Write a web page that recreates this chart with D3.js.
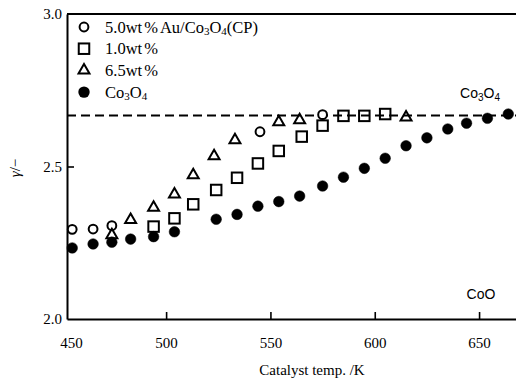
<!DOCTYPE html>
<html>
<head>
<meta charset="utf-8">
<script src="https://cdn.jsdelivr.net/npm/d3@7/dist/d3.min.js"></script>
<style>
  html, body { margin: 0; padding: 0; background: #fff; }
  svg { display: block; }
</style>
</head>
<body>
<svg id="chart" width="516" height="385"></svg>
<script>
// ---- data ----
const xTicks = [450, 500, 550, 600, 650];
const yTicks = [2.0, 2.5, 3.0];
const co3o4Line = 2.667;   // dashed reference level (Co3O4)

// 5.0wt% Au/Co3O4(CP)  (open circles)
const auTemp  = [455, 465, 474, 545, 575];
const auGamma = [2.294, 2.295, 2.306, 2.614, 2.670];

// 1.0wt% (open squares)
const sqTemp  = [494, 504, 513, 524, 534, 544, 554, 565, 575, 585, 595, 605];
const sqGamma = [2.303, 2.330, 2.376, 2.423, 2.463, 2.510, 2.551, 2.598, 2.634, 2.666, 2.666, 2.672];

// 6.5wt% (open triangles)
const trTemp  = [474, 483, 494, 504, 513, 523, 533, 554, 564, 615];
const trGamma = [2.275, 2.325, 2.365, 2.409, 2.472, 2.534, 2.587, 2.646, 2.652, 2.661];

// Co3O4 (filled circles)
const coTemp  = [455, 465, 474, 483, 494, 504, 524, 534, 544, 554, 564, 575, 585, 595, 605, 615, 625, 635, 644, 654, 664];
const coGamma = [2.233, 2.246, 2.252, 2.262, 2.270, 2.286, 2.327, 2.343, 2.370, 2.385, 2.403, 2.436, 2.465, 2.494, 2.527, 2.568, 2.594, 2.623, 2.642, 2.658, 2.672];

// ---- layout ----
const L = 67, R = 516, T = 14, B = 319;
const svg = d3.select('#chart');
const serif = "'Liberation Serif', 'DejaVu Serif', serif";
const sans = "'Liberation Sans', Arial, sans-serif";

const x = d3.scaleLinear().domain([452.5, 667.7]).range([L, R]).clamp(true);
const y = d3.scaleLinear().domain([2, 3]).range([B, T]);

// axes
const xAxis = d3.axisBottom(x).tickValues(xTicks).tickSizeInner(-7).tickSizeOuter(0).tickPadding(18).tickFormat(d3.format('d'));
const gx = svg.append('g').attr('transform', `translate(0,${B})`).call(xAxis);
const yAxis = d3.axisLeft(y).tickValues(yTicks).tickSizeInner(-7).tickSizeOuter(0).tickPadding(5).tickFormat(d3.format('.1f'));
const gy = svg.append('g').attr('transform', `translate(${L},0)`).call(yAxis);

[gx, gy].forEach(g => {
  g.select('.domain').attr('stroke', '#000').attr('stroke-width', 2);
  g.selectAll('.tick line').attr('stroke', '#000').attr('stroke-width', 1.6);
  g.selectAll('.tick text').attr('fill', '#000').style('font-family', serif).style('font-size', '15px');
});
gx.selectAll('.tick').filter(d => d === 450).select('line').remove();
gx.selectAll('.tick').filter(d => d === 450).select('text').attr('dx', 4);
gy.selectAll('.tick').filter(d => d === 2 || d === 3).select('line').remove();

// top frame
svg.append('line').attr('x1', L).attr('x2', R).attr('y1', T).attr('y2', T)
  .attr('stroke', '#000').attr('stroke-width', 1.8);

// dashed Co3O4 level
svg.append('line').attr('x1', L).attr('x2', R).attr('y1', y(co3o4Line)).attr('y2', y(co3o4Line))
  .attr('stroke', '#000').attr('stroke-width', 2).attr('stroke-dasharray', '9,5');

// markers
const sw = 2;
function drawCircles(tA, gA, filled) {
  svg.append('g').selectAll('circle').data(tA.map((t, i) => [t, gA[i]])).join('circle')
    .attr('cx', d => x(d[0])).attr('cy', d => y(d[1]))
    .attr('r', filled ? 5.3 : 4.4)
    .attr('fill', filled ? '#000' : '#fff')
    .attr('stroke', '#000').attr('stroke-width', filled ? 0.5 : sw);
}
function drawSquares(tA, gA) {
  const s = 10.5;
  svg.append('g').selectAll('rect').data(tA.map((t, i) => [t, gA[i]])).join('rect')
    .attr('x', d => x(d[0]) - s / 2).attr('y', d => y(d[1]) - s / 2)
    .attr('width', s).attr('height', s)
    .attr('fill', 'none').attr('stroke', '#000').attr('stroke-width', sw);
}
function drawTriangles(tA, gA) {
  const sym = d3.symbol().type(d3.symbolTriangle).size(52);
  svg.append('g').selectAll('path').data(tA.map((t, i) => [t, gA[i]])).join('path')
    .attr('d', sym)
    .attr('transform', d => `translate(${x(d[0])},${y(d[1])})`)
    .attr('fill', 'none').attr('stroke', '#000').attr('stroke-width', sw);
}
drawCircles(coTemp, coGamma, true);
drawSquares(sqTemp, sqGamma);
drawCircles(auTemp, auGamma, false);
drawTriangles(trTemp, trGamma);

// legend
const legend = svg.append('g').style('font-family', serif).style('font-size', '16.5px');
const rows = [
  { type: 'oc', parts: [['5.0wt'], ['%', 2], ['Au/Co'], ['3', 1], ['O'], ['4', 1], ['(CP)']] },
  { type: 'sq', parts: [['1.0wt'], ['%', 2]] },
  { type: 'tr', parts: [['6.5wt'], ['%', 2]] },
  { type: 'fc', parts: [['Co'], ['3', 1], ['O'], ['4', 1]] }
];
rows.forEach((r, i) => {
  const cy = 27 + i * 21.7, cx = 84;
  if (r.type === 'oc') legend.append('circle').attr('cx', cx).attr('cy', cy).attr('r', 4.4).attr('fill', '#fff').attr('stroke', '#000').attr('stroke-width', sw);
  if (r.type === 'fc') legend.append('circle').attr('cx', cx).attr('cy', cy).attr('r', 5.7).attr('fill', '#000');
  if (r.type === 'sq') legend.append('rect').attr('x', cx - 5.25).attr('y', cy - 5.25).attr('width', 10.5).attr('height', 10.5).attr('fill', 'none').attr('stroke', '#000').attr('stroke-width', sw);
  if (r.type === 'tr') legend.append('path').attr('d', d3.symbol().type(d3.symbolTriangle).size(52)()).attr('transform', `translate(${cx},${cy})`).attr('fill', 'none').attr('stroke', '#000').attr('stroke-width', sw);
  const t = legend.append('text').attr('x', 105).attr('y', cy + 5.5);
  let prevSub = false;
  r.parts.forEach(p => {
    const ts = t.append('tspan').text(p[0]);
    if (p[1] === 1) { ts.style('font-size', '11px').attr('dy', prevSub ? 0 : 2); prevSub = true; }
    else {
      if (prevSub) ts.attr('dy', -2);
      prevSub = false;
      if (p[1] === 2) ts.attr('dx', 2).attr('letter-spacing', 2);
    }
  });
});

// annotations
function subLabel(xPos, yPos) {
  return svg.append('text').attr('x', xPos).attr('y', yPos).attr('text-anchor', 'middle')
    .style('font-family', sans).style('font-size', '14px').attr('fill', '#000');
}
const a1 = subLabel(480, 98);
a1.append('tspan').text('Co');
a1.append('tspan').text('3').style('font-size', '10px').attr('dy', 3);
a1.append('tspan').text('O').attr('dy', -3);
a1.append('tspan').text('4').style('font-size', '10px').attr('dy', 3);
subLabel(481, 299).text('CoO');

// axis titles
svg.append('text').attr('x', 312).attr('y', 375).attr('text-anchor', 'middle')
  .style('font-family', serif).style('font-size', '15px').text('Catalyst temp. /K');
svg.append('text').attr('transform', 'translate(20,168) rotate(-90)').attr('text-anchor', 'middle')
  .style('font-family', serif).style('font-size', '15px')
  .html('<tspan font-style="italic">γ</tspan>/−');
</script>
</body>
</html>
